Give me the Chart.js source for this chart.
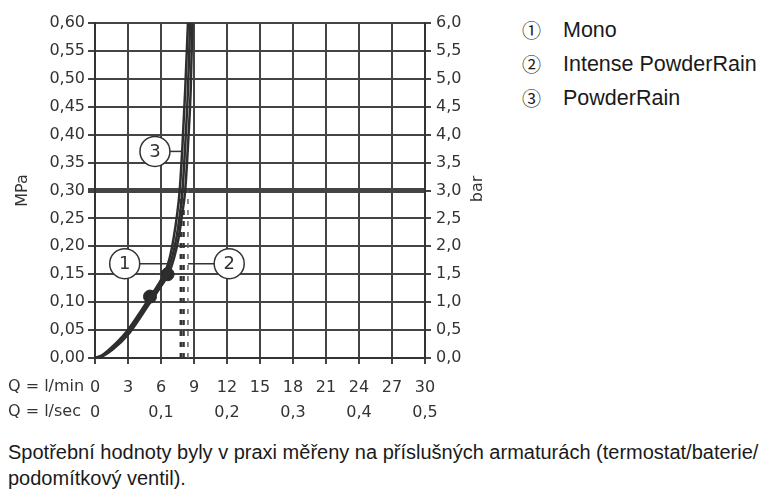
<!DOCTYPE html>
<html>
<head>
<meta charset="utf-8">
<script src="https://cdn.jsdelivr.net/npm/chart.js@4"></script>
<style>
body{margin:0;background:#fff;width:771px;height:495px;position:relative;overflow:hidden;font-family:"Liberation Sans",Arial,sans-serif;color:#1a1a1a}
#wrap{position:absolute;left:0;top:0;width:500px;height:425px}
.legend{position:absolute;left:522px;top:13px;font-size:21.5px;line-height:34px}
.legend div{height:34px;white-space:nowrap}
.legend .n{display:inline-block;width:41px;font-family:"Noto Sans CJK SC",sans-serif;font-size:19px;line-height:34px;vertical-align:top}
.qrow{position:absolute;left:8px;font-family:"DejaVu Sans",sans-serif;font-size:16px;line-height:20px;color:#333}
.foot{position:absolute;left:8px;top:439px;font-size:20px;line-height:26px;width:765px}
</style>
</head>
<body>
<div id="wrap"><canvas id="pressureChart" width="500" height="425"></canvas></div>
<div class="qrow" style="top:376px">Q = l/min</div>
<div class="qrow" style="top:401px">Q = l/sec</div>
<div class="legend" id="legend"></div>
<div class="foot">Spotřební hodnoty byly v praxi měřeny na příslušných armaturách (termostat/baterie/<br>podomítkový ventil).</div>
<script>
// flow in l/min, pressure in MPa
const flowTicks = [0, 3, 6, 9, 12, 15, 18, 21, 24, 27, 30];
const secLabels = ['0', '', '0,1', '', '0,2', '', '0,3', '', '0,4', '', '0,5'];
const seriesNames = ['Mono', 'Intense PowderRain', 'PowderRain'];
const circled = ['①', '②', '③'];

const monoQ = [0, 0.7, 1.5, 3.0, 4.0, 5.0, 5.8, 6.5, 7.0, 7.4, 7.7, 7.95, 8.2, 8.45, 8.65];
const monoP = [0, 0.005, 0.016, 0.047, 0.075, 0.104, 0.128, 0.152, 0.18, 0.215, 0.255, 0.30, 0.38, 0.48, 0.60];
const intenseQ = [0, 0.75, 1.6, 3.1, 4.1, 5.1, 5.95, 6.7, 7.2, 7.6, 7.9, 8.2, 8.45, 8.7, 8.85];
const intenseP = [0, 0.004, 0.015, 0.044, 0.072, 0.102, 0.127, 0.151, 0.18, 0.215, 0.255, 0.30, 0.38, 0.48, 0.60];
const powderQ = [0, 0.65, 1.4, 2.9, 3.9, 4.9, 5.7, 6.35, 6.8, 7.15, 7.45, 7.7, 7.95, 8.2, 8.45];
const powderP = [0, 0.005, 0.017, 0.048, 0.076, 0.106, 0.13, 0.153, 0.18, 0.215, 0.255, 0.30, 0.38, 0.48, 0.60];

const dotQ = [5.0, 6.6];
const dotP = [0.11, 0.15];

const dropQ = [7.8, 8.05, 8.45];
const refP = 0.30;

const calloutNum = ['1', '2', '3'];
const calloutQ = [2.7, 12.2, 5.45];
const calloutP = [0.169, 0.169, 0.37];
const calloutToQ = [7.0, 8.45, 8.0];

document.getElementById('legend').innerHTML = seriesNames
    .map((n, i) => '<div><span class="n">' + circled[i] + '</span>' + n + '</div>').join('');

const pts = (xs, ys) => xs.map((x, i) => ({ x: x, y: ys[i] }));
const curve = (xs, ys) => ({
    data: pts(xs, ys),
    showLine: true,
    borderColor: '#2e2e2e',
    borderWidth: 2.5,
    pointRadius: 0,
    cubicInterpolationMode: 'monotone',
});

const dropLines = dropQ.map((q, i) => ({
    data: [{ x: q, y: 0 }, { x: q, y: refP }],
    showLine: true,
    borderColor: i < 2 ? '#333' : '#666',
    borderWidth: i < 2 ? 2.5 : 1.5,
    borderDash: [5, 6],
    pointRadius: 0,
}));

const grey = '#333';
const tickFont = { family: 'DejaVu Sans', size: 16 };
const comma = (v, d) => v.toFixed(d).replace('.', ',');

const extras = {
    id: 'extras',
    afterDatasetsDraw(chart) {
        const c = chart.ctx, x = chart.scales.x, y = chart.scales.y;
        c.save();
        calloutNum.forEach((n, i) => {
            const cx = x.getPixelForValue(calloutQ[i]);
            const cy = y.getPixelForValue(calloutP[i]);
            const tx = x.getPixelForValue(calloutToQ[i]);
            c.strokeStyle = grey;
            c.lineWidth = 1.5;
            c.beginPath();
            c.moveTo(cx, cy);
            c.lineTo(tx, cy);
            c.stroke();
            c.beginPath();
            c.arc(cx, cy, 15, 0, Math.PI * 2);
            c.fillStyle = '#fff';
            c.fill();
            c.stroke();
            c.fillStyle = grey;
            c.font = '18px "DejaVu Sans"';
            c.textAlign = 'center';
            c.textBaseline = 'middle';
            c.fillText(n, cx, cy + 1);
        });
        c.restore();
    },
    afterDraw(chart) {
        const c = chart.ctx;
        c.save();
        c.translate(478, 189);
        c.rotate(-Math.PI / 2);
        c.fillStyle = grey;
        c.font = '16px "DejaVu Sans"';
        c.textAlign = 'center';
        c.textBaseline = 'middle';
        c.fillText('bar', 0, 0);
        c.restore();
    },
};

const ctx = document.getElementById('pressureChart').getContext('2d');
const pressureChart = new Chart(ctx, {
    type: 'scatter',
    data: {
        datasets: [
            curve(monoQ, monoP),
            curve(intenseQ, intenseP),
            curve(powderQ, powderP),
            ...dropLines,
            {
                data: pts(dotQ, dotP),
                pointRadius: 6.5,
                pointBackgroundColor: '#2a2a2a',
                pointBorderColor: '#2a2a2a',
            },
        ],
    },
    options: {
        responsive: false,
        animation: false,
        devicePixelRatio: 1,
        layout: { padding: { top: 23, right: 0, left: 0, bottom: 0 } },
        plugins: { legend: { display: false }, tooltip: { enabled: false } },
        scales: {
            x: {
                type: 'linear',
                min: 0,
                max: 30,
                afterBuildTicks: s => { s.ticks = flowTicks.map(v => ({ value: v })); },
                afterFit: s => { s.height = 67; },
                grid: { color: '#444', lineWidth: 2, tickLength: 6 },
                border: { color: grey, width: 2 },
                ticks: {
                    color: grey,
                    font: Object.assign({ lineHeight: 1.56 }, tickFont),
                    padding: 11,
                    maxRotation: 0,
                    callback: (v) => {
                        const i = flowTicks.indexOf(v);
                        return [String(v), secLabels[i]];
                    },
                },
            },
            y: {
                min: 0,
                max: 0.6,
                afterFit: s => { s.width = 95; },
                grid: {
                    color: '#444',
                    tickLength: 7,
                    lineWidth: c => (c.tick && Math.abs(c.tick.value - refP) < 1e-6 ? 5 : 2),
                },
                border: { color: grey, width: 2 },
                ticks: { stepSize: 0.05, color: grey, font: tickFont, padding: 3, callback: v => comma(v, 2) },
                title: { display: true, text: 'MPa', color: grey, font: tickFont, padding: { top: 13, bottom: 0 } },
            },
            y2: {
                position: 'right',
                min: 0,
                max: 6,
                afterFit: s => { s.width = 75; },
                grid: { drawOnChartArea: false, color: '#444', lineWidth: 2, tickLength: 6 },
                border: { color: grey, width: 2 },
                ticks: { stepSize: 0.5, color: grey, font: tickFont, padding: 5, callback: v => comma(v, 1) },
            },
        },
    },
    plugins: [extras],
});
</script>
</body>
</html>
